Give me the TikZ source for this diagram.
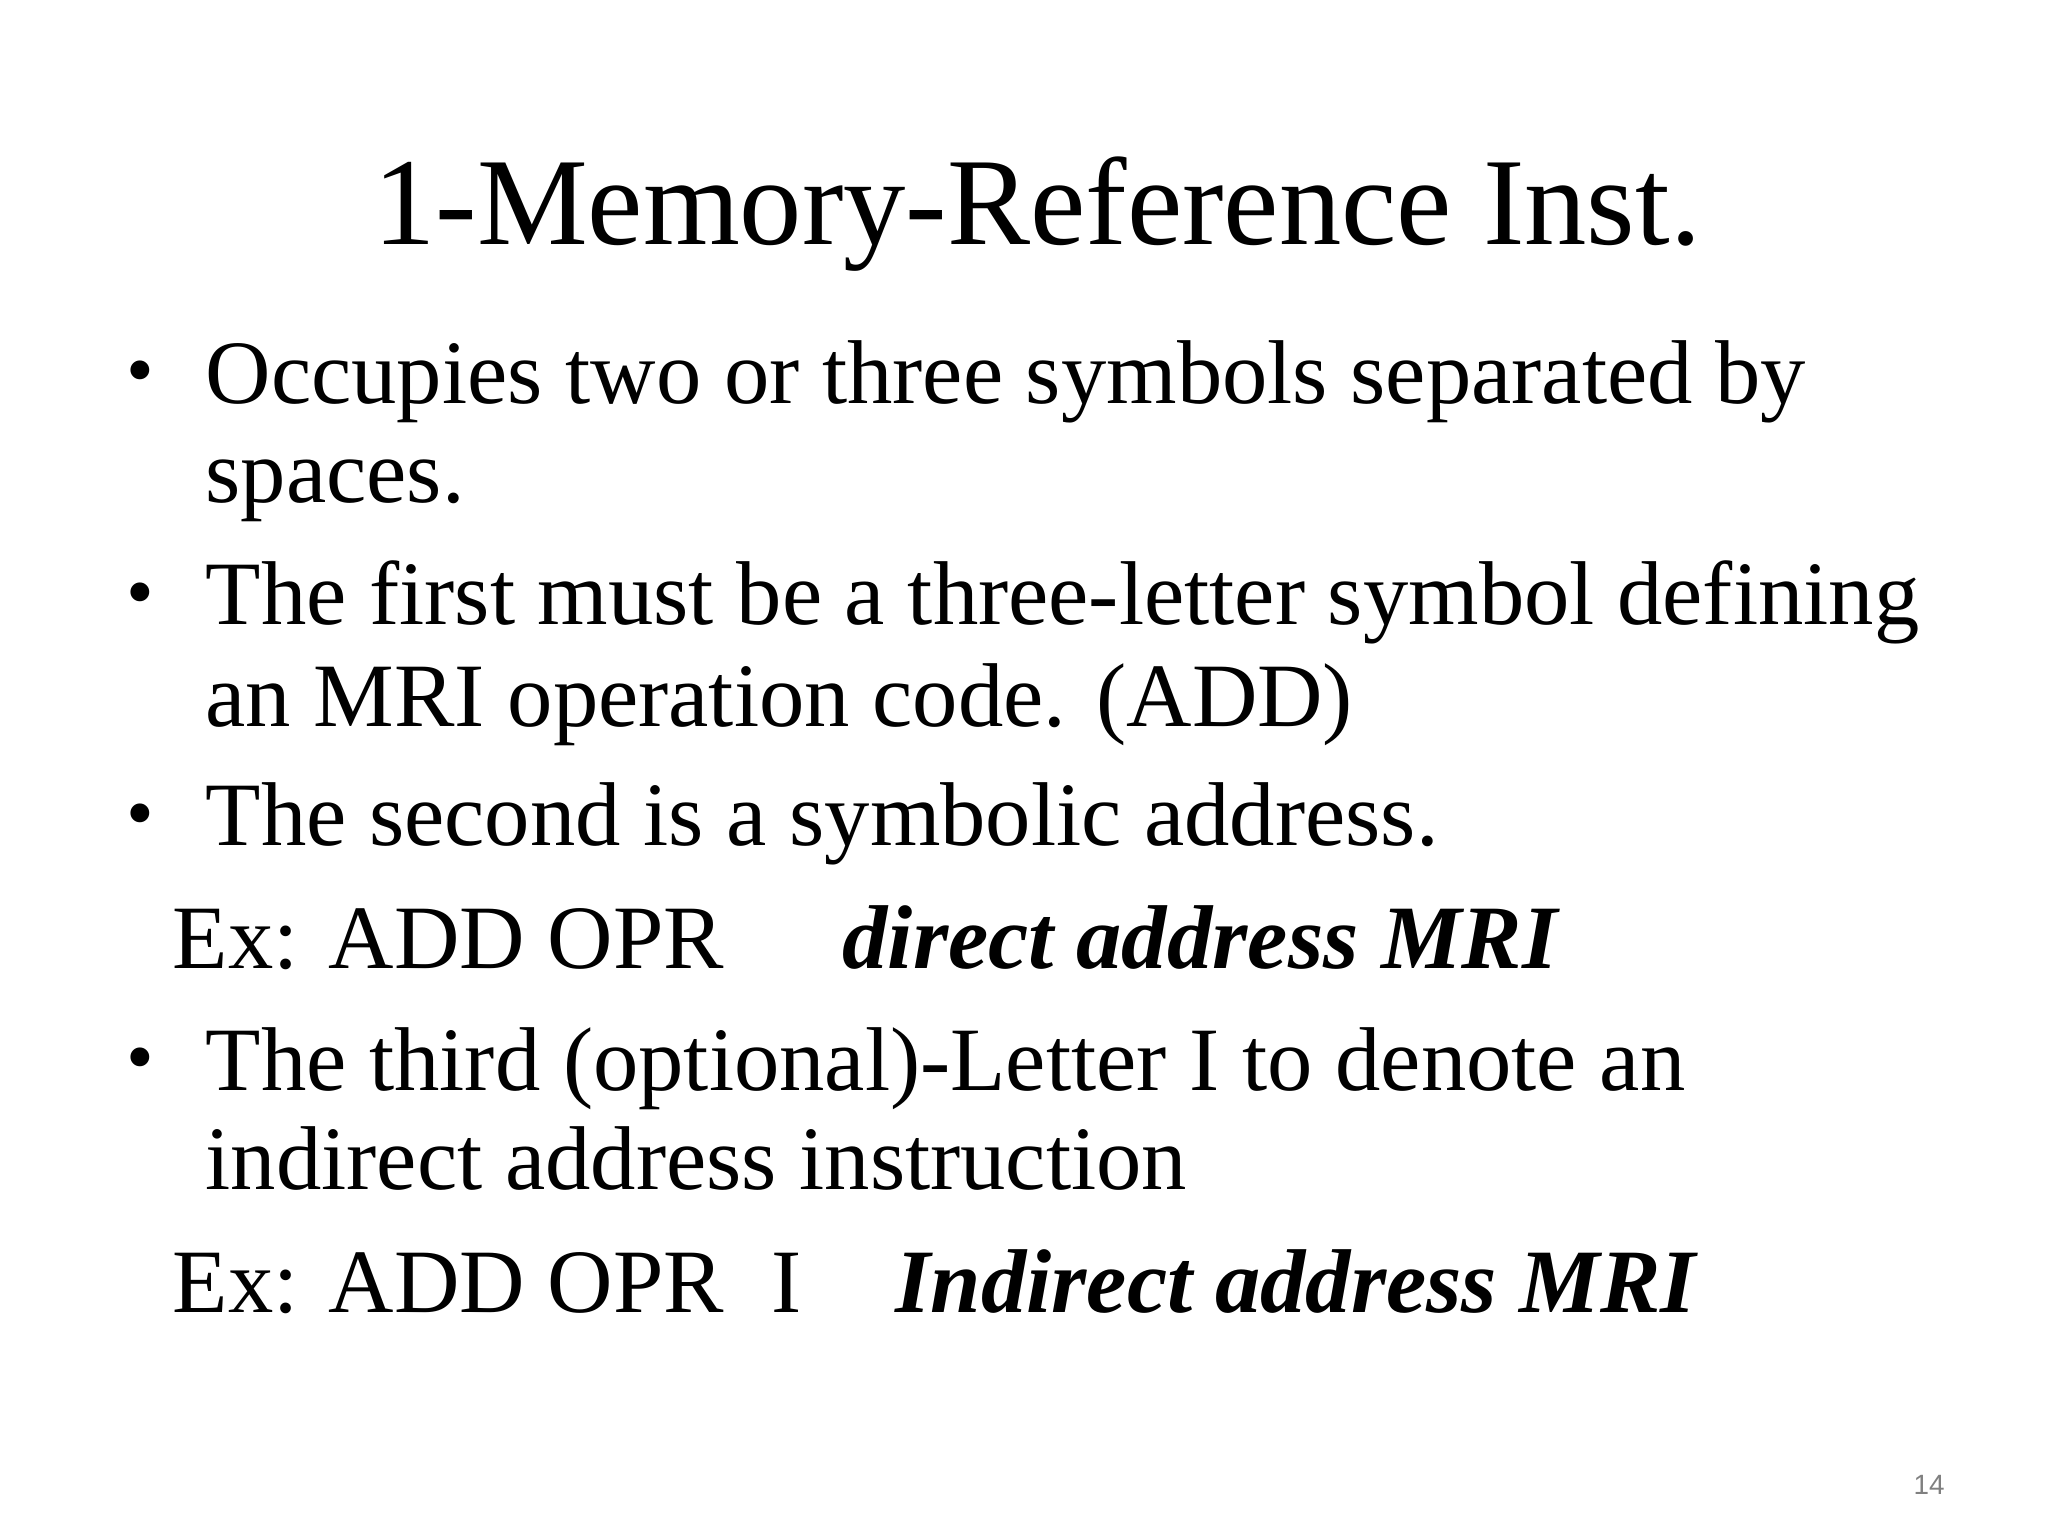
\documentclass[tikz,border=0pt]{standalone}
\usepackage{fontspec}
\setmainfont{Liberation Serif}
\newfontfamily\pnfont{Liberation Sans}
\begin{document}
\begin{tikzpicture}[x=0.01cm,y=-0.01cm,
  body/.style={anchor=base west,inner sep=0pt,font=\fontsize{19.5pt}{23pt}\selectfont},
  bul/.style={anchor=base west,inner sep=0pt,font=\fontsize{17pt}{20pt}\selectfont}]
\useasboundingbox (0,0) rectangle (1550,1162.5);
\node[anchor=base,inner sep=0pt,font=\fontsize{26.8pt}{30pt}\selectfont] (title) at (785,185) {1-Memory-Reference Inst.};
\node[bul] (b1) at (95,300) {•};
\node[body] (t1) at (155,305) {Occupies two or three symbols separated by};
\node[body] (t1b) at (155,380) {spaces.};
\node[bul] (b2) at (95,468) {•};
\node[body] (t2) at (155,473) {The first must be a three-letter symbol defining};
\node[body] (t2b) at (155,550) {an MRI operation code. (ADD)};
\node[bul] (b3) at (95,635) {•};
\node[body] (t3) at (155,640) {The second is a symbolic address.};
\node[body] (e1) at (130,733) {Ex: ADD OPR};
\node[body] (e1b) at (637,733) {\bfseries\itshape direct address MRI};
\node[bul] (b4) at (95,820) {•};
\node[body] (t4) at (155,825) {The third (optional)-Letter I to denote an};
\node[body] (t4b) at (155,900) {indirect address instruction};
\node[body] (e2) at (130,993) {Ex: ADD OPR};
\node[body] (e2i) at (583,993) {I};
\node[body] (e2b) at (677,993) {\bfseries\itshape Indirect address MRI};
\node[anchor=base,inner sep=0pt,text=gray,font=\pnfont\fontsize{6pt}{7pt}\selectfont] (pn) at (1460,1131) {14};
\end{tikzpicture}
\end{document}
